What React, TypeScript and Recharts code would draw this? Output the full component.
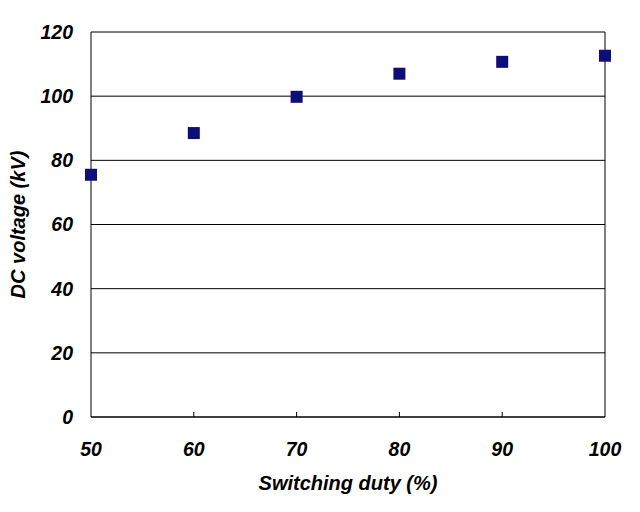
import { ScatterChart, Scatter, XAxis, YAxis, CartesianGrid, ReferenceLine } from 'recharts';

const duty = [50, 60, 70, 80, 90, 100];
const voltage = [75.5, 88.5, 99.8, 107, 110.7, 112.6];
const xTicks = [50, 60, 70, 80, 90, 100];
const yTicks = [0, 20, 40, 60, 80, 100, 120];

const points = duty.map((d, i) => ({ duty: d, voltage: voltage[i] }));

const FONT = '"Liberation Sans", Arial, sans-serif';
const MARK = '#0e0e78';

// square marker centred on the point
function Square(props: any) {
  const { cx, cy } = props;
  if (cx == null || cy == null) return null;
  return <rect x={cx - 6} y={cy - 6} width={12} height={12} fill={MARK} />;
}

// x tick: short inner tick mark plus label below the axis
function XTick(props: any) {
  const { x, y, payload } = props;
  const v = payload.value;
  return (
    <g>
      {v !== 50 && v !== 100 && <line x1={x} x2={x} y1={y} y2={y - 5} stroke="#000" />}
      <text
        x={x}
        y={y + 39}
        textAnchor="middle"
        fontFamily={FONT}
        fontSize={19.5}
        fontWeight="bold"
        fontStyle="italic"
        fill="#000"
      >
        {v}
      </text>
    </g>
  );
}

export default function App() {
  return (
    <div style={{ position: 'absolute', left: 0, top: 0, width: 640, height: 512, background: '#fff' }}>
      <ScatterChart width={640} height={512} margin={{ top: 32, right: 35, bottom: 0, left: 0 }}>
        <CartesianGrid horizontal vertical={false} stroke="#000" strokeWidth={1} />
        <XAxis
          type="number"
          dataKey="duty"
          domain={[50, 100]}
          ticks={xTicks}
          height={95}
          tickSize={0}
          tickMargin={0}
          tickLine={false}
          axisLine={{ stroke: '#000' }}
          tick={<XTick />}
          label={{
            value: 'Switching duty (%)',
            position: 'insideBottom',
            offset: 22,
            style: { fontFamily: FONT, fontSize: 20, fontWeight: 'bold', fontStyle: 'italic', fill: '#000' },
          }}
        />
        <YAxis
          type="number"
          dataKey="voltage"
          domain={[0, 120]}
          ticks={yTicks}
          width={91}
          tickSize={0}
          tickMargin={18}
          tickLine={false}
          axisLine={{ stroke: '#000' }}
          tick={{ fontFamily: FONT, fontSize: 19.5, fontWeight: 'bold', fontStyle: 'italic', fill: '#000' }}
          label={{
            value: 'DC voltage (kV)',
            angle: -90,
            position: 'insideLeft',
            offset: 18,
            style: { textAnchor: 'middle', fontFamily: FONT, fontSize: 20, fontWeight: 'bold', fontStyle: 'italic', fill: '#000' },
          }}
        />
        <ReferenceLine x={100} stroke="#000" />
        <Scatter data={points} shape={<Square />} isAnimationActive={false} />
      </ScatterChart>
    </div>
  );
}
